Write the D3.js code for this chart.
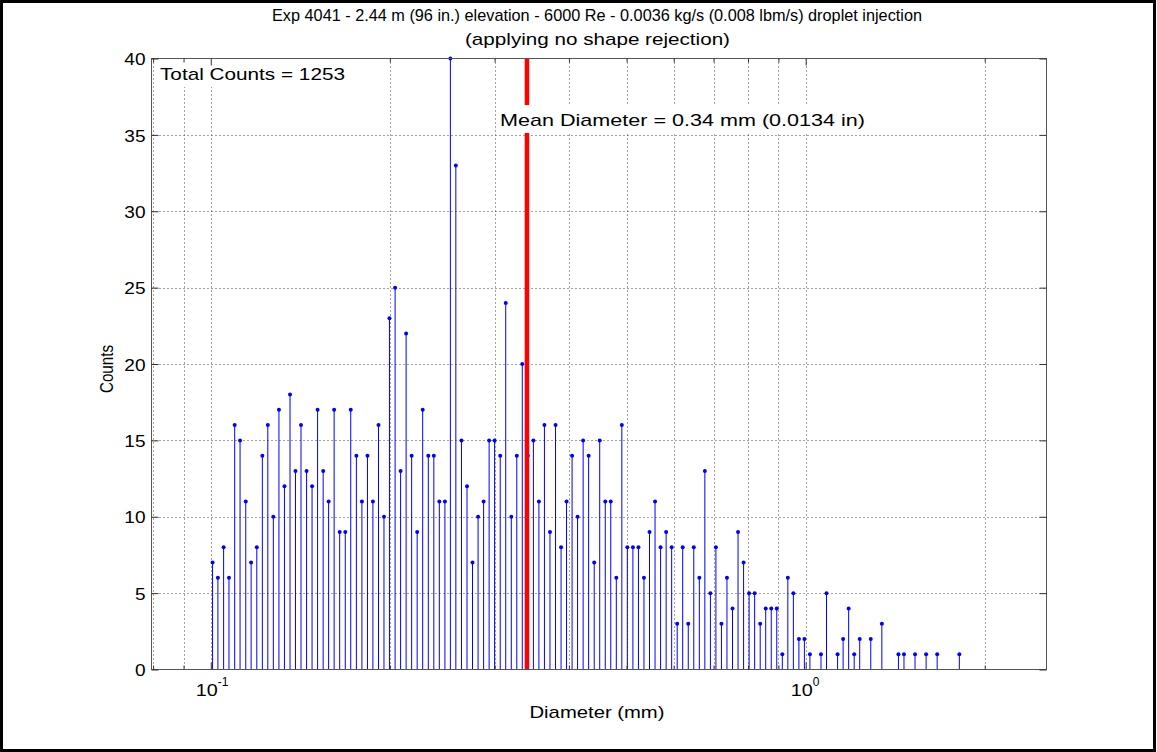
<!DOCTYPE html>
<html>
<head>
<meta charset="utf-8">
<script src="https://cdn.jsdelivr.net/npm/d3@7"></script>
<style>
  body { margin: 0; background: #fff; }
  text { font-family: "Liberation Sans", Arial, sans-serif; fill: #000; }
</style>
</head>
<body>
<div id="app"></div>
<script>
// bin centre diameters (mm) of the non-empty bins
const diameters = [
  0.1007, 0.1028, 0.1051, 0.1073, 0.1097, 0.1120, 0.1145, 0.1169, 0.1195, 0.1221,
  0.1247, 0.1274, 0.1302, 0.1330, 0.1359, 0.1388, 0.1418, 0.1449, 0.1480, 0.1512,
  0.1545, 0.1578, 0.1612, 0.1647, 0.1683, 0.1719, 0.1757, 0.1795, 0.1834, 0.1873,
  0.1914, 0.1955, 0.1997, 0.2041, 0.2085, 0.2130, 0.2176, 0.2223, 0.2271, 0.2321,
  0.2371, 0.2422, 0.2475, 0.2528, 0.2582, 0.2639, 0.2696, 0.2754, 0.2814, 0.2875,
  0.2937, 0.3000, 0.3066, 0.3132, 0.3200, 0.3269, 0.3339, 0.3412, 0.3486, 0.3561,
  0.3638, 0.3717, 0.3798, 0.3880, 0.3963, 0.4049, 0.4136, 0.4226, 0.4317, 0.4411,
  0.4506, 0.4604, 0.4703, 0.4805, 0.4909, 0.5015, 0.5124, 0.5235, 0.5348, 0.5464,
  0.5582, 0.5703, 0.5827, 0.5953, 0.6082, 0.6213, 0.6348, 0.6485, 0.6626, 0.6769,
  0.6916, 0.7065, 0.7218, 0.7374, 0.7534, 0.7697, 0.7864, 0.8034, 0.8208, 0.8386,
  0.8567, 0.8753, 0.8942, 0.9136, 0.9333, 0.9535, 0.9742, 0.9951, 1.0166,
  1.0611, 1.0840, 1.1315, 1.1560, 1.1810, 1.2066, 1.2327, 1.2866, 1.3430,
  1.4320, 1.4630, 1.5270, 1.5939, 1.6636, 1.8126
];

const counts = [
  7, 6, 8, 6, 16, 15, 11, 7, 8, 14,
  16, 10, 17, 12, 18, 13, 16, 13, 12, 17,
  13, 11, 17, 9, 9, 17, 14, 11, 14, 11,
  16, 10, 23, 25, 13, 22, 14, 9, 17, 14,
  14, 11, 11, 40, 33, 15, 12, 7, 10, 11,
  15, 15, 14, 24, 10, 14, 20, 14, 15, 11,
  16, 9, 16, 8, 11, 14, 10, 15, 14, 7,
  15, 11, 11, 6, 16, 8, 8, 8, 6, 9,
  11, 8, 9, 8, 3, 8, 3, 8, 6, 13,
  5, 8, 3, 6, 4, 9, 7, 5, 5, 3,
  4, 4, 4, 1, 6, 5, 2, 2, 1,
  1, 5, 1, 2, 4, 1, 2, 2, 3,
  1, 1, 1, 1, 1, 1
];

const meanDiameter = 0.34;
const totalCounts = 1253;

const xMajorTicks = [0.1, 1];
const xMajorLabels = [["10", "-1"], ["10", "0"]];
const xMinorTicks = [0.08, 0.09, 0.2, 0.3, 0.4, 0.5, 0.6, 0.7, 0.8, 0.9, 2];
const yTicks = [0, 5, 10, 15, 20, 25, 30, 35, 40];

const titleLines = [
  "Exp 4041 - 2.44 m (96 in.) elevation - 6000 Re - 0.0036 kg/s (0.008 lbm/s) droplet injection",
  "(applying no shape rejection)"
];

const chart = () => {
  const width = 1157;
  const height = 752;
  const left = 151.5;
  const right = 1046.5;
  const top = 58.5;
  const bottom = 669.5;

  const x = d3.scaleLog().domain([0.0795, 2.54]).range([left, right]);
  const y = d3.scaleLinear().domain([0, 40]).range([bottom, top]);

  const svg = d3.create("svg").attr("width", width).attr("height", height);

  svg.append("rect")
    .attr("width", width).attr("height", height).attr("fill", "#fff");

  // grid
  const grid = svg.append("g")
    .attr("stroke", "#444")
    .attr("stroke-width", 1)
    .attr("stroke-dasharray", "1,3");

  grid.selectAll("line.v")
    .data(xMajorTicks.concat(xMinorTicks).filter((d) => d > 0.0795))
    .join("line")
    .attr("class", "v")
    .attr("x1", (d) => Math.round(x(d)) + 0.5)
    .attr("x2", (d) => Math.round(x(d)) + 0.5)
    .attr("y1", top)
    .attr("y2", bottom);

  grid.selectAll("line.h")
    .data(yTicks.slice(1, -1))
    .join("line")
    .attr("class", "h")
    .attr("x1", left)
    .attr("x2", right)
    .attr("y1", (d) => Math.round(y(d)) + 0.5)
    .attr("y2", (d) => Math.round(y(d)) + 0.5);

  // stems
  const data = diameters.map((d, i) => [d, counts[i]]);

  svg.append("g")
    .attr("stroke", "#0000ff")
    .attr("stroke-width", 1)
    .selectAll("line")
    .data(data)
    .join("line")
    .attr("x1", (d) => x(d[0]))
    .attr("x2", (d) => x(d[0]))
    .attr("y1", y(0))
    .attr("y2", (d) => y(d[1]));

  svg.append("g")
    .attr("fill", "#0000ff")
    .selectAll("circle")
    .data(data)
    .join("circle")
    .attr("cx", (d) => x(d[0]))
    .attr("cy", (d) => y(d[1]))
    .attr("r", 2);

  // mean line
  svg.append("line")
    .attr("x1", x(meanDiameter))
    .attr("x2", x(meanDiameter))
    .attr("y1", top)
    .attr("y2", bottom)
    .attr("stroke", "#ff0000")
    .attr("stroke-width", 4.5);

  // annotations with white boxes
  const note = (tx, ty, str, len) => {
    const g = svg.append("g");
    const t = g.append("text")
      .attr("x", tx).attr("y", ty)
      .attr("font-size", 17)
      .attr("textLength", len)
      .attr("lengthAdjust", "spacingAndGlyphs")
      .text(str);
    g.insert("rect", "text")
      .attr("x", tx - 3).attr("y", ty - 21)
      .attr("width", len + 6).attr("height", 28)
      .attr("fill", "#fff");
    return t;
  };
  note(500, 126, `Mean Diameter = ${meanDiameter} mm (0.0134 in)`, 365);
  note(160, 80, `Total Counts = ${totalCounts}`, 185);

  // axes box
  svg.append("rect")
    .attr("x", left).attr("y", top)
    .attr("width", right - left).attr("height", bottom - top)
    .attr("fill", "none")
    .attr("stroke", "#555")
    .attr("shape-rendering", "crispEdges");

  const tickStyle = (g) => {
    g.select(".domain").remove();
    g.selectAll(".tick line").attr("stroke", "#333");
  };

  svg.append("g")
    .attr("transform", `translate(0,${bottom})`)
    .call(d3.axisBottom(x).tickValues(xMajorTicks).tickSize(-7).tickFormat(""))
    .call(tickStyle);
  svg.append("g")
    .attr("transform", `translate(0,${bottom})`)
    .call(d3.axisBottom(x).tickValues(xMinorTicks).tickSize(-4).tickFormat(""))
    .call(tickStyle);
  svg.append("g")
    .attr("transform", `translate(0,${top})`)
    .call(d3.axisTop(x).tickValues(xMajorTicks).tickSize(-7).tickFormat(""))
    .call(tickStyle);
  svg.append("g")
    .attr("transform", `translate(0,${top})`)
    .call(d3.axisTop(x).tickValues(xMinorTicks).tickSize(-4).tickFormat(""))
    .call(tickStyle);

  const yAxis = svg.append("g")
    .attr("transform", `translate(${left},0)`)
    .call(d3.axisLeft(y).tickValues(yTicks).tickSize(-7).tickPadding(6))
    .call(tickStyle);
  yAxis.selectAll("text")
    .attr("font-size", 17)
    .attr("font-family", "Liberation Sans, Arial, sans-serif")
    .attr("dy", "0.36em")
    .attr("textLength", (d) => String(d).length * 10.6)
    .attr("lengthAdjust", "spacingAndGlyphs");

  svg.append("g")
    .attr("transform", `translate(${right},0)`)
    .call(d3.axisRight(y).tickValues(yTicks).tickSize(-7).tickFormat(""))
    .call(tickStyle);

  // x tick labels 10^n
  const lbl = svg.append("g").selectAll("text")
    .data(xMajorTicks)
    .join("text")
    .attr("x", (d) => x(d) - 15)
    .attr("y", 696)
    .attr("font-size", 17);
  lbl.append("tspan")
    .attr("textLength", 22)
    .attr("lengthAdjust", "spacingAndGlyphs")
    .text((d, i) => xMajorLabels[i][0]);
  lbl.append("tspan")
    .attr("dy", -10)
    .attr("font-size", 12)
    .text((d, i) => xMajorLabels[i][1]);

  // titles
  svg.append("text")
    .attr("x", 597).attr("y", 21)
    .attr("text-anchor", "middle")
    .attr("font-size", 17)
    .attr("textLength", 650)
    .attr("lengthAdjust", "spacingAndGlyphs")
    .text(titleLines[0]);
  svg.append("text")
    .attr("x", 597.5).attr("y", 45)
    .attr("text-anchor", "middle")
    .attr("font-size", 17)
    .attr("textLength", 265)
    .attr("lengthAdjust", "spacingAndGlyphs")
    .text(titleLines[1]);

  svg.append("text")
    .attr("x", 597).attr("y", 718)
    .attr("text-anchor", "middle")
    .attr("font-size", 17)
    .attr("textLength", 135)
    .attr("lengthAdjust", "spacingAndGlyphs")
    .text("Diameter (mm)");

  svg.append("text")
    .attr("transform", "translate(113,369) rotate(-90)")
    .attr("text-anchor", "middle")
    .attr("font-size", 18)
    .attr("textLength", 48)
    .attr("lengthAdjust", "spacingAndGlyphs")
    .text("Counts");

  // figure frame
  svg.append("rect")
    .attr("x", 1.5).attr("y", 1.5)
    .attr("width", width - 4).attr("height", height - 3)
    .attr("fill", "none")
    .attr("stroke", "#000")
    .attr("stroke-width", 3);

  return svg.node();
};

d3.select("#app").append(chart);
</script>
</body>
</html>
